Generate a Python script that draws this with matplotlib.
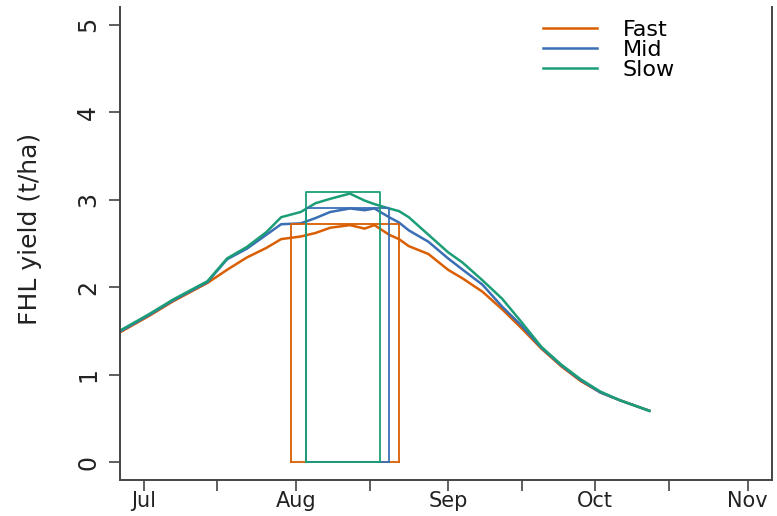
import matplotlib
matplotlib.use("Agg")
import matplotlib.pyplot as plt

# days counted from 1 July
days = [-5, 1, 6, 10, 13, 17, 21, 25, 28, 32, 35, 38, 42, 45, 47, 50, 52, 54,
        58, 62, 65, 69, 73, 77, 81, 85, 89, 93, 97, 101, 103]

fast = [1.48, 1.67, 1.84, 1.96, 2.05, 2.20, 2.34, 2.45, 2.55, 2.58, 2.62, 2.68,
        2.71, 2.67, 2.71, 2.60, 2.55, 2.47, 2.38, 2.20, 2.10, 1.95, 1.75, 1.53,
        1.30, 1.10, 0.93, 0.80, 0.71, 0.63, 0.59]
mid = [1.49, 1.68, 1.85, 1.97, 2.06, 2.32, 2.44, 2.60, 2.72, 2.73, 2.79, 2.86,
       2.90, 2.88, 2.90, 2.80, 2.74, 2.65, 2.52, 2.33, 2.20, 2.03, 1.78, 1.56,
       1.31, 1.11, 0.94, 0.80, 0.71, 0.63, 0.59]
slow = [1.50, 1.69, 1.86, 1.98, 2.07, 2.33, 2.46, 2.63, 2.80, 2.86, 2.96, 3.01,
        3.07, 2.99, 2.95, 2.90, 2.87, 2.80, 2.60, 2.40, 2.28, 2.08, 1.87, 1.60,
        1.32, 1.12, 0.95, 0.81, 0.71, 0.63, 0.59]

series = ["Fast", "Mid", "Slow"]
colors = ["#D95F02", "#3A6FB5", "#1B9E77"]

# harvest windows: start day, end day, peak yield
win_start = [30, 33, 33]
win_end = [52, 50, 48.2]
win_top = [2.72, 2.91, 3.09]

month_days = [0, 31, 62, 92, 123]
month_labels = ["Jul", "Aug", "Sep", "Oct", "Nov"]
mid_month_days = [15, 46, 77, 107]

plt.rcParams["font.family"] = ["DejaVu Sans"]

fig = plt.figure(figsize=(7.77, 5.16), dpi=100)
ax = fig.add_axes([0.1538, 0.0698, 0.8394, 0.9166])

for name, ys, c in zip(series, [fast, mid, slow], colors):
    ax.plot(days, ys, color=c, lw=1.8, label=name)

for s, e, t, c in zip(win_start, win_end, win_top, colors):
    ax.plot([s, s, e, e], [0, t, t, 0], color=c, lw=1.3)
    ax.plot([s, e], [0, 0], color=c, lw=1.3)

ax.set_xlim(-4.92, 127.92)
ax.set_ylim(-0.2, 5.2)

ax.set_xticks(month_days)
ax.set_xticklabels(month_labels)
ax.set_xticks(mid_month_days, minor=True)
ax.set_yticks([0, 1, 2, 3, 4, 5])

for sp in ["left", "right", "bottom"]:
    ax.spines[sp].set_color("#444444")
    ax.spines[sp].set_linewidth(1.4)
ax.spines["top"].set_visible(False)

ax.tick_params(axis="both", which="both", direction="out", length=8,
               width=1.2, color="#444444", labelcolor="#222222")
ax.tick_params(axis="x", labelsize=15, pad=0)
ax.tick_params(axis="y", labelsize=17, pad=6)
for lab in ax.get_yticklabels():
    lab.set_rotation(90)
    lab.set_va("center")

ax.set_ylabel("FHL yield (t/ha)", fontsize=18, color="#222222")
ax.yaxis.set_label_coords(-0.119, 0.53)

ax.legend(loc="upper left", bbox_to_anchor=(0.649, 0.9736), frameon=False,
          fontsize=16, handlelength=2.43, handletextpad=1.17,
          labelspacing=0.0, borderpad=0, borderaxespad=0)

fig.savefig("out.png", dpi=100)
